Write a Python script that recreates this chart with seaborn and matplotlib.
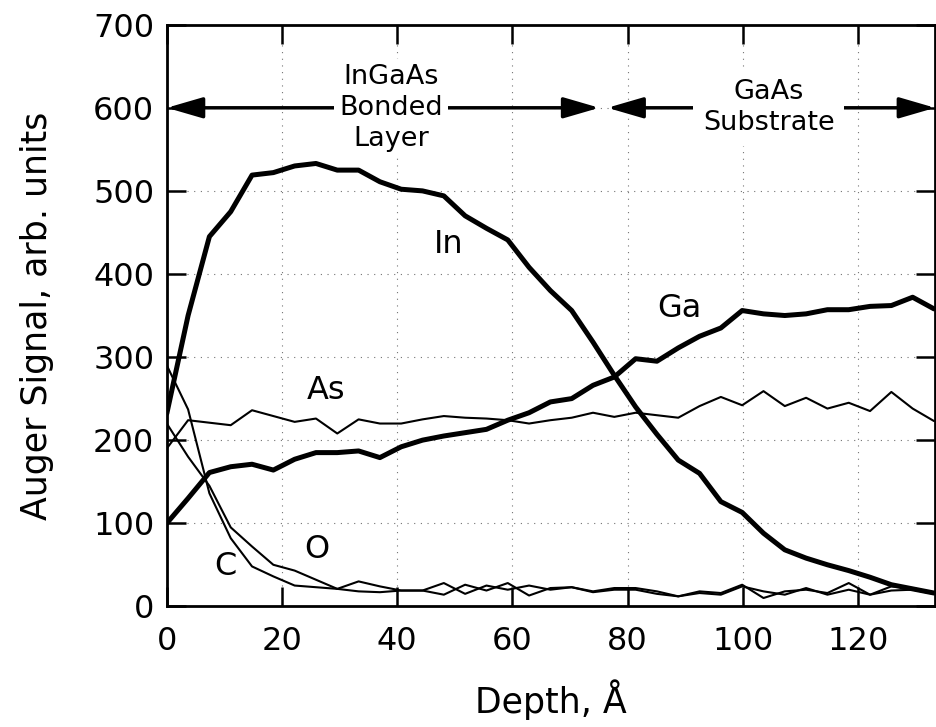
import seaborn as sns
import matplotlib.pyplot as plt
import pandas as pd

#==========================================data===========================================#
depth = [0, 3.7, 7.4, 11.1, 14.8, 18.5, 22.2, 25.9, 29.6, 33.3, 37.0, 40.7, 44.4, 48.1, 51.8,
         55.5, 59.2, 62.9, 66.6, 70.3, 74.0, 77.7, 81.4, 85.1, 88.8, 92.5, 96.2, 99.9, 103.6,
         107.3, 111.0, 114.7, 118.4, 122.1, 125.8, 129.5, 133.2]

sig_In = [232, 350, 445, 475, 519, 522, 530, 533, 525, 525, 511, 502, 500, 494, 470, 455, 441,
          408, 380, 356, 318, 278, 240, 207, 176, 160, 126, 113, 88, 68, 58, 50, 43, 35, 26, 21, 16]
sig_Ga = [100, 130, 161, 168, 171, 164, 177, 185, 185, 187, 179, 192, 200, 205, 209, 213, 224,
          233, 246, 250, 266, 276, 298, 295, 311, 325, 335, 356, 352, 350, 352, 357, 357, 361,
          362, 372, 358]
sig_As = [190, 224, 221, 218, 236, 229, 222, 226, 208, 225, 220, 220, 225, 229, 227, 226, 224,
          220, 224, 227, 233, 228, 233, 230, 227, 241, 252, 242, 259, 241, 251, 238, 245, 235,
          258, 238, 223]
sig_C = [290, 237, 136, 82, 48, 36, 25, 23, 21, 18, 17, 19, 19, 14, 26, 19, 28, 13, 22, 23, 17,
         20, 20, 15, 12, 18, 16, 26, 10, 18, 20, 16, 28, 14, 24, 22, 16]
sig_O = [220, 180, 145, 95, 72, 50, 43, 32, 21, 30, 24, 19, 19, 28, 15, 25, 20, 25, 20, 23, 18,
         22, 22, 18, 12, 16, 14, 24, 18, 14, 22, 14, 20, 14, 19, 20, 15]

xticks = [0, 20, 40, 60, 80, 100, 120]
yticks = [0, 100, 200, 300, 400, 500, 600, 700]

df = pd.DataFrame({'depth': depth, 'In': sig_In, 'Ga': sig_Ga, 'As': sig_As, 'C': sig_C, 'O': sig_O})

#==========================================plot===========================================#
sns.set_style("ticks")
plt.rcParams['font.family'] = ['DejaVu Sans']
plt.rcParams['text.color'] = 'black'
plt.rcParams['axes.labelcolor'] = 'black'

fig, ax = plt.subplots(figsize=(9.37, 7.27), dpi=100)
fig.subplots_adjust(left=0.178, right=0.998, bottom=0.166, top=0.966)

thick, thin = 3.6, 1.5
for col, lw in [('In', thick), ('Ga', thick), ('As', thin), ('C', thin), ('O', thin)]:
    sns.lineplot(data=df, x='depth', y=col, ax=ax, color='black', lw=lw, zorder=4)

ax.set_xlim(0, 133.4)
ax.set_ylim(0, 700)
ax.set_xticks(xticks)
ax.set_yticks(yticks)
ax.tick_params(direction='in', length=13.5, width=1.8, top=True, right=True, labelsize=23,
               colors='black', labelcolor='black')
ax.tick_params(axis='x', pad=14)
ax.tick_params(axis='y', pad=9)
ax.grid(True, ls=(0, (1, 5)), lw=0.8, color='0.45')
[(s.set_linewidth(2), s.set_color('black')) for s in ax.spines.values()]

ax.set_xlabel('Depth, Å', fontsize=25, labelpad=16)
ax.set_ylabel('Auger Signal, arb. units', fontsize=25, labelpad=28)

# region arrows
arrow_kw = dict(arrowstyle='<|-|>,head_length=1.1,head_width=0.32', color='black', lw=2.5,
                shrinkA=0, shrinkB=0, mutation_scale=20)
ax.annotate('', xy=(0, 600), xytext=(75.1, 600), arrowprops=arrow_kw, zorder=2)
ax.annotate('', xy=(76.5, 600), xytext=(133.4, 600), arrowprops=arrow_kw, zorder=2, annotation_clip=False)
ax.text(38.9, 600, 'InGaAs\nBonded\nLayer', ha='center', va='center', fontsize=19.5, linespacing=1.25,
        bbox=dict(facecolor='white', edgecolor='none', pad=3.5), zorder=3)
ax.text(104.5, 600, 'GaAs\nSubstrate', ha='center', va='center', fontsize=19.5, linespacing=1.25,
        bbox=dict(facecolor='white', edgecolor='none', pad=7), zorder=3)

# curve labels
for txt, x, y in [('In', 49, 435), ('Ga', 89, 358), ('As', 27.7, 260), ('O', 26.1, 68), ('C', 10.1, 48)]:
    ax.text(x, y, txt, ha='center', va='center', fontsize=23, zorder=5)

fig.savefig('out.png', dpi=100)
